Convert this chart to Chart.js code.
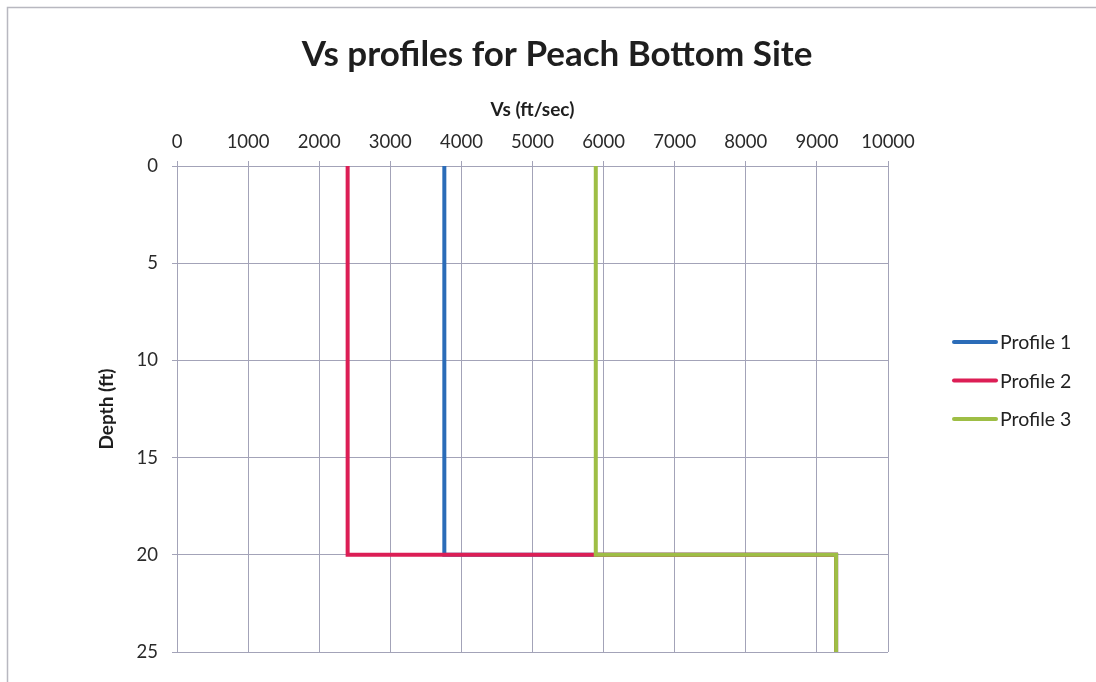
<!DOCTYPE html>
<html>
<head>
<meta charset="utf-8">
<script src="https://cdn.jsdelivr.net/npm/chart.js@4/dist/chart.umd.min.js"></script>
<style>
  html, body { margin: 0; padding: 0; background: #fff; }
  #wrap { width: 1096px; height: 682px; position: relative; }
</style>
</head>
<body>
<div id="wrap"><canvas id="c" width="1096" height="682"></canvas></div>
<script>
const chartTitle = 'Vs profiles for Peach Bottom Site';
const xAxisTitle = 'Vs (ft/sec)';
const yAxisTitle = 'Depth (ft)';
const seriesNames = ['Profile 1', 'Profile 2', 'Profile 3'];
const seriesColors = ['#2b6cb8', '#dc1e55', '#9ebe45'];

const profile1Vs    = [3760, 3760, 9270, 9270];
const profile1Depth = [0, 20, 20, 25];
const profile2Vs    = [2400, 2400, 9270, 9270];
const profile2Depth = [0, 20, 20, 25];
const profile3Vs    = [5890, 5890, 9270, 9270];
const profile3Depth = [0, 20, 20, 25];

const xTicks = [0, 1000, 2000, 3000, 4000, 5000, 6000, 7000, 8000, 9000, 10000];
const yTicks = [0, 5, 10, 15, 20, 25];

const seriesVs = [profile1Vs, profile2Vs, profile3Vs];
const seriesDepth = [profile1Depth, profile2Depth, profile3Depth];

const FONT = 'Lato, "Open Sans", "Liberation Sans", sans-serif';
const gridColor = '#a3a3b8';

const datasets = seriesNames.map((name, i) => ({
  label: name,
  data: seriesVs[i].map((v, k) => ({ x: v, y: seriesDepth[i][k] })),
  borderColor: seriesColors[i],
  backgroundColor: seriesColors[i],
  borderWidth: 4,
  showLine: true,
  pointRadius: 0,
  tension: 0,
  order: seriesNames.length - i
}));

const decorPlugin = {
  id: 'decor',
  beforeDraw(chart) {
    const ctx = chart.ctx;
    ctx.save();
    ctx.fillStyle = '#fff';
    ctx.fillRect(0, 0, chart.width, chart.height);
    ctx.strokeStyle = '#b8b8c0';
    ctx.lineWidth = 1.5;
    ctx.beginPath();
    ctx.moveTo(7.5, chart.height + 2);
    ctx.lineTo(7.5, 7.5);
    ctx.lineTo(chart.width + 2, 7.5);
    ctx.stroke();
    ctx.restore();
  },
  afterDraw(chart) {
    const ctx = chart.ctx;
    ctx.save();
    ctx.fillStyle = '#1e1e1e';
    ctx.font = 'bold 35px ' + FONT;
    ctx.textAlign = 'center';
    ctx.textBaseline = 'middle';
    ctx.fillText(chartTitle, 557, 55);
    // legend
    ctx.font = '19.5px ' + FONT;
    ctx.textAlign = 'left';
    seriesNames.forEach((name, i) => {
      const y = 342 + i * 38.5;
      ctx.strokeStyle = seriesColors[i];
      ctx.lineWidth = 4;
      ctx.lineCap = 'round';
      ctx.beginPath();
      ctx.moveTo(954, y);
      ctx.lineTo(996, y);
      ctx.stroke();
      ctx.fillStyle = '#222';
      ctx.fillText(name, 1000, y + 1);
    });
    ctx.restore();
  }
};

new Chart(document.getElementById('c'), {
  type: 'scatter',
  data: { datasets },
  options: {
    responsive: false,
    animation: false,
    devicePixelRatio: 1,
    layout: { padding: { top: 94, left: 77, right: 208, bottom: 30 } },
    plugins: {
      legend: { display: false },
      title: { display: false },
      tooltip: { enabled: false }
    },
    scales: {
      x: {
        type: 'linear',
        position: 'top',
        min: 0, max: 10000,
        afterBuildTicks: (s) => { s.ticks = xTicks.map(v => ({ value: v })); },
        afterFit: (s) => { s.height = 72; },
        ticks: { color: '#2a2a2a', font: { family: FONT, size: 18.5 }, padding: 8, maxRotation: 0, autoSkip: false, callback: (v) => String(v) },
        grid: { color: gridColor, lineWidth: 1, tickLength: 5, drawTicks: true },
        border: { color: gridColor, width: 1 },
        title: { display: true, text: xAxisTitle, color: '#1e1e1e', font: { family: FONT, size: 19, weight: 'bold' }, padding: { top: 4, bottom: 0 } }
      },
      y: {
        type: 'linear',
        reverse: true,
        min: 0, max: 25,
        afterBuildTicks: (s) => { s.ticks = yTicks.map(v => ({ value: v })); },
        afterFit: (s) => { s.width = 100; },
        ticks: { color: '#2a2a2a', font: { family: FONT, size: 18.5 }, padding: 14, autoSkip: false, callback: (v) => String(v) },
        grid: { color: gridColor, lineWidth: 1, tickLength: 5, drawTicks: true },
        border: { color: gridColor, width: 1 },
        title: { display: true, text: yAxisTitle, color: '#1e1e1e', font: { family: FONT, size: 19, weight: 'bold' }, padding: { top: 18, bottom: 0 } }
      }
    }
  },
  plugins: [decorPlugin]
});
</script>
</body>
</html>
